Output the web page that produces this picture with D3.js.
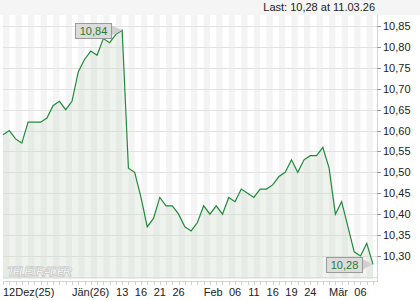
<!DOCTYPE html>
<html>
<head>
<meta charset="utf-8">
<script src="https://cdn.jsdelivr.net/npm/d3@7"></script>
<style>
  html, body { margin: 0; padding: 0; background: #fff; }
  svg { display: block; font-family: "Liberation Sans", Arial, sans-serif; }
</style>
</head>
<body>
<div id="chart"></div>
<script>
// daily closes, 12.12.25 .. 11.03.26
const prices = [
  10.59, 10.60, 10.58, 10.57, 10.62, 10.62, 10.62, 10.63, 10.66, 10.67,
  10.65, 10.67, 10.74, 10.77, 10.79, 10.78, 10.82, 10.81, 10.83, 10.84,
  10.51, 10.50, 10.44, 10.37, 10.39, 10.44, 10.42, 10.42, 10.40, 10.37,
  10.36, 10.38, 10.42, 10.40, 10.42, 10.40, 10.44, 10.43, 10.46, 10.45,
  10.44, 10.46, 10.46, 10.47, 10.49, 10.50, 10.53, 10.50, 10.53, 10.54,
  10.54, 10.56, 10.51, 10.40, 10.43, 10.37, 10.31, 10.30, 10.33, 10.28
];
const xTickIdx = [0, 11, 19, 22, 25, 28, 32, 37, 40, 43, 46, 49, 52, 57];
const xTickLabels = ["12Dez(25)", "Jän(26)", "13", "16", "21", "26", "Feb", "06", "11", "16", "19", "24", "Mär", "06"];
const yTicks = [10.30, 10.35, 10.40, 10.45, 10.50, 10.55, 10.60, 10.65, 10.70, 10.75, 10.80, 10.85];
const gridLevels = [10.25].concat(yTicks);
const lastLabel = "Last: 10,28 at 11.03.26";

const width = 420, height = 300;
const plotLeft = 3, plotRight = 377, plotTop = 15, plotBottom = 279;
const fmt = (v) => d3.format(".2f")(v).replace(".", ",");

const svg = d3.select("#chart").append("svg")
  .attr("width", width)
  .attr("height", height)
  .attr("viewBox", `0 0 ${width} ${height}`);

const x = d3.scaleLinear().domain([0, prices.length - 1]).range([3, 373]);
const y = d3.scaleLinear().domain([10.25, 10.85]).range([276.9, 26]);

// header band
svg.append("rect").attr("x", 0).attr("y", 0).attr("width", width).attr("height", plotTop).attr("fill", "#f5f5f5");
svg.append("text")
  .attr("x", 375).attr("y", 11)
  .attr("text-anchor", "end")
  .attr("font-size", 11)
  .attr("fill", "#222")
  .text(lastLabel);

// day stripes
svg.append("g").selectAll("rect")
  .data(d3.range(0, prices.length, 2))
  .enter().append("rect")
  .attr("x", (i) => x(i))
  .attr("y", plotTop)
  .attr("width", (i) => Math.min(x(i + 1), plotRight) - x(i))
  .attr("height", plotBottom - plotTop)
  .attr("fill", "#f4f4f4");

// horizontal grid
svg.append("g").selectAll("line")
  .data(gridLevels)
  .enter().append("line")
  .attr("x1", plotLeft).attr("x2", plotRight)
  .attr("y1", (d) => Math.round(y(d)) + 0.5)
  .attr("y2", (d) => Math.round(y(d)) + 0.5)
  .attr("stroke", "#e2e2e2");

// area + line
svg.append("path")
  .datum(prices)
  .attr("d", d3.area().x((d, i) => x(i)).y0(plotBottom).y1((d) => y(d)))
  .attr("fill", "rgb(200,220,195)")
  .attr("fill-opacity", 0.3);

svg.append("path")
  .datum(prices)
  .attr("d", d3.line().x((d, i) => x(i)).y((d) => y(d)))
  .attr("fill", "none")
  .attr("stroke", "#1f8a3c")
  .attr("stroke-width", 1.2);

// watermark
svg.append("text")
  .attr("x", 7).attr("y", 276)
  .attr("font-size", 13)
  .attr("font-weight", "bold")
  .attr("font-style", "italic")
  .attr("textLength", 65)
  .attr("fill", "#fff")
  .attr("stroke", "#c8c8c8")
  .attr("stroke-width", 0.8)
  .text("TELETRADER");

// x axis
svg.append("line")
  .attr("x1", plotLeft).attr("x2", plotRight)
  .attr("y1", 281.5).attr("y2", 281.5)
  .attr("stroke", "#d4d4d4");
svg.append("g").selectAll("line")
  .data(d3.range(prices.length))
  .enter().append("line")
  .attr("x1", (i) => Math.round(x(i)) + 0.5)
  .attr("x2", (i) => Math.round(x(i)) + 0.5)
  .attr("y1", 282).attr("y2", 285)
  .attr("stroke", "#cfcfcf");
svg.append("g").selectAll("text")
  .data(xTickIdx)
  .enter().append("text")
  .attr("x", (i) => x(i))
  .attr("y", 296)
  .attr("text-anchor", (i, k) => /^\d+$/.test(xTickLabels[k]) ? "middle" : "start")
  .attr("font-size", 11)
  .attr("fill", "#222")
  .text((i, k) => xTickLabels[k]);

// y axis on the right
svg.append("line")
  .attr("x1", plotRight + 0.5).attr("x2", plotRight + 0.5)
  .attr("y1", plotTop).attr("y2", 282)
  .attr("stroke", "#d4d4d4");
const yAxis = svg.append("g").selectAll("g")
  .data(yTicks)
  .enter().append("g");
yAxis.append("line")
  .attr("x1", plotRight).attr("x2", plotRight + 4)
  .attr("y1", (d) => Math.round(y(d)) + 0.5)
  .attr("y2", (d) => Math.round(y(d)) + 0.5)
  .attr("stroke", "#999");
yAxis.append("text")
  .attr("x", 383)
  .attr("y", (d) => y(d) + 4)
  .attr("font-size", 11)
  .attr("fill", "#222")
  .text((d) => fmt(d));

// callouts for max and last
const maxIdx = d3.maxIndex(prices);
const lastIdx = prices.length - 1;
[maxIdx, lastIdx].forEach((i) => {
  const px = x(i), py = y(prices[i]);
  const bw = 36, bh = 15;
  const bx = Math.round(px - 11 - bw), by = Math.round(py - bh / 2);
  svg.append("path")
    .attr("d", `M${bx + bw},${by + 2} L${px},${py} L${bx + bw},${by + bh - 2} Z`)
    .attr("fill", "#d0d0d0");
  svg.append("rect")
    .attr("x", bx + 0.5).attr("y", by + 0.5)
    .attr("width", bw).attr("height", bh)
    .attr("fill", "#dcdcdc")
    .attr("stroke", "#9a9a9a");
  svg.append("text")
    .attr("x", bx + bw / 2 + 0.5).attr("y", by + 12)
    .attr("text-anchor", "middle")
    .attr("font-size", 11)
    .attr("fill", "#1f7a30")
    .text(fmt(prices[i]));
});
</script>
</body>
</html>
